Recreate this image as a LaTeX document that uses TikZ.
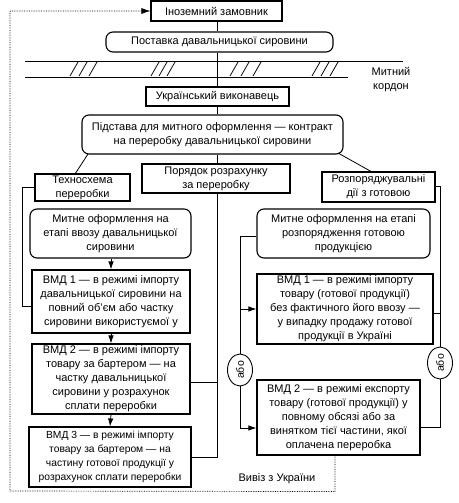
\documentclass[tikz,border=0pt]{standalone}
\usepackage{fontspec}
\setmainfont{Liberation Sans}
\usetikzlibrary{arrows.meta,shapes.geometric}
\begin{document}
\begin{tikzpicture}[x=1pt,y=-1pt,
  box/.style={draw, line width=1.1pt, align=center, inner sep=1pt, font=\fontsize{11}{14}\selectfont},
  rbox/.style={box, rounded corners=7pt},
  conn/.style={line width=0.8pt},
  arr/.style={conn, -{Latex[length=8pt,width=5.5pt]}},
  orbox/.style={draw, line width=0.9pt, ellipse, fill=white, inner sep=0pt, minimum width=32pt, minimum height=25pt, rotate=90, font=\fontsize{10.5}{12}\selectfont},
  plain/.style={font=\fontsize{11}{14}\selectfont, align=center, inner sep=0pt}]
\useasboundingbox (0,0) rectangle (458,503);

% boxes
\node[box, minimum width=131pt, minimum height=20pt] (ino) at (216.5,11) {Іноземний замовник};
\node[rbox, minimum width=227pt, minimum height=20pt] (post) at (219.5,42) {Поставка давальницької сировини};
\node[box, minimum width=143pt, minimum height=19pt] (ukr) at (217.5,96.5) {Український виконавець};
\node[rbox, minimum width=261pt, minimum height=39pt] (pidst) at (212.5,134.5) {Підстава для митного оформлення — контракт\\на переробку давальницької сировини};
\node[box, minimum width=95pt, minimum height=27pt] (tech) at (82.5,187.5) {Техносхема\\переробки};
\node[box, minimum width=148pt, minimum height=29pt] (por) at (216,178.5) {Порядок розрахунку\\за переробку};
\node[box, minimum width=113pt, minimum height=30pt] (rozp) at (378.5,187) {Розпоряджувальні\\дії з готовою};
\node[rbox, minimum width=161pt, minimum height=49pt] (lmyt) at (110.5,233.5) {Митне оформлення на\\етапі ввозу давальницької\\сировини};
\node[box, minimum width=158pt, minimum height=63pt] (lv1) at (111,301.5) {ВМД 1 — в режимі імпорту\\давальницької сировини на\\повний об’єм або частку\\сировини використуємої у};
\node[box, minimum width=158pt, minimum height=70pt] (lv2) at (111,379) {ВМД 2 — в режимі імпорту\\товару за бартером — на\\частку давальницької\\сировини у розрахунок\\сплати переробки};
\node[box, minimum width=162pt, minimum height=60pt, font=\fontsize{10.3}{14}\selectfont] (lv3) at (110,457) {ВМД 3 — в режимі імпорту\\товару за бартером — на\\частину готової продукції у\\розрахунок сплати переробки};
\node[rbox, minimum width=173pt, minimum height=49pt] (rmyt) at (343.5,233.5) {Митне оформлення на етапі\\розпорядження готовою\\продукцією};
\node[box, minimum width=176pt, minimum height=70pt] (rv1) at (345,309) {ВМД 1 — в режимі імпорту\\товару (готової продукції)\\без фактичного його ввозу —\\у випадку продажу готової\\продукції в Україні};
\node[box, minimum width=163pt, minimum height=75pt] (rv2) at (338.5,417.5) {ВМД 2 — в режимі експорту\\товару (готової продукції) у\\повному обсязі або за\\винятком тієї частини, якої\\оплачена переробка};

\node[plain] (kord) at (391,79.5) {Митний\\кордон};
\node[plain] (vyviz) at (277,479) {Вивіз з України};

% customs border
\draw[conn] (25,61) -- (403,61);
\draw[conn] (25,77) -- (348,77);
\foreach \x in {70,79,89, 151,159,167, 230,241,253, 312,321,330}
  \draw[conn] (\x,76) -- ++(8,-14);

% spine
\coordinate (sp) at (217,0);
\draw[conn] (ino.south -| sp) -- (post.north -| sp);
\draw[conn] (post.south -| sp) -- (ukr.north -| sp);
\draw[conn] (ukr.south -| sp) -- (pidst.north -| sp);
\draw[conn] (pidst.south -| sp) -- (por.north -| sp);
\draw[conn] (88,154) -- (75,174);
\draw[conn] (338,153) -- (372,172);

% left column
\draw[conn] (tech.west) -- ++(-12,0) |- ([yshift=-5pt]lv1.west);
\draw[arr] (lmyt.south -| lv1.north) -- (lv1.north);
\draw[arr] (lv1.south) -- (lv2.north);
\draw[arr] (lv2.south) -- (lv3.north);

% middle settlement line
\draw[conn] (por.south -| sp) -- (lv3.east -| sp) -- (lv3.east);
\draw[conn] ([yshift=-3pt]lv2.east) -- ([yshift=-3pt]lv2.east -| sp);

% right-middle column
\node[orbox] (orL) at (240,370) {або};
\node[orbox] (orR) at (440,363) {або};
\coordinate (rl) at (240,236);
\coordinate (rr) at (440,186);
\draw[conn] (rmyt.west |- rl) -- (rl) -- (orL);
\draw[arr] (rl |- rv1.west) -- (rv1.west);
\coordinate (rv2in) at (rv2.west |- 0,428);
\draw[arr] (orL) -- (rl |- rv2in) -- (rv2in);

% right column
\draw[conn] (rozp.east |- rr) -- (rr) -- (orR);
\draw[conn] ([yshift=-4pt]rv1.east) -- ([yshift=-4pt]rv1.east -| rr);
\coordinate (rv2out) at (rv2.east |- 0,427);
\draw[conn] (orR) -- (rr |- rv2out) -- (rv2out);

% feedback dotted line
\draw[densely dotted, line width=0.7pt, -{Latex[length=9pt,width=6pt]}]
  ([xshift=-3.5pt]rv2.south) -- ++(0,36) -- (10,491) -- (10,11) -- (ino.west);
\end{tikzpicture}
\end{document}
